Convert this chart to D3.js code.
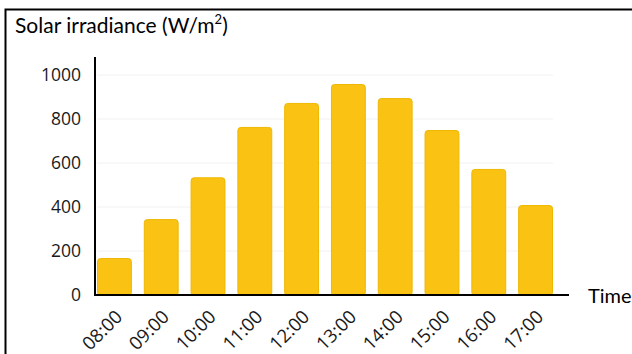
<!DOCTYPE html>
<html>
<head>
<meta charset="utf-8">
<script src="https://cdn.jsdelivr.net/npm/d3@7"></script>
<style>
  html, body { margin: 0; padding: 0; background: #fff; }
  svg { display: block; }
</style>
</head>
<body>
<svg id="chart" width="632" height="354"></svg>
<script>
// Hourly solar irradiance readings
const hours = ["08:00", "09:00", "10:00", "11:00", "12:00", "13:00", "14:00", "15:00", "16:00", "17:00"];
const irradiance = [168, 345, 535, 764, 873, 959, 895, 750, 573, 409];
const yTicks = [0, 200, 400, 600, 800, 1000];

const svg = d3.select("#chart");
const tickFont = "'Open Sans', 'Noto Sans', sans-serif";
const titleFont = "Lato, 'Open Sans', sans-serif";

// Outer frame (runs off the right and bottom edges)
svg.append("rect")
  .attr("x", 5.5).attr("y", 9.5)
  .attr("width", 700).attr("height", 400)
  .attr("fill", "none").attr("stroke", "#000").attr("stroke-width", 2);

const x = d3.scaleBand()
  .domain(hours)
  .range([97, 553])
  .paddingInner(0.255)
  .paddingOuter(0);

const y = d3.scaleLinear()
  .domain([0, 1000])
  .range([295, 75]);

// Light horizontal gridlines
svg.append("g")
  .selectAll("line")
  .data(yTicks.filter(d => d > 0))
  .join("line")
  .attr("x1", 97).attr("x2", 553)
  .attr("y1", d => y(d)).attr("y2", d => y(d))
  .attr("stroke", "#f2f2f2").attr("stroke-width", 1);

// Bars
svg.append("g")
  .selectAll("rect")
  .data(hours)
  .join("rect")
  .attr("x", d => x(d) + 0.5)
  .attr("y", (d, i) => y(irradiance[i]) + 0.5)
  .attr("width", x.bandwidth() - 1)
  .attr("height", (d, i) => y(0) - y(irradiance[i]))
  .attr("rx", 3).attr("ry", 3)
  .attr("fill", "#fac313")
  .attr("stroke", "#efb700")
  .attr("stroke-width", 1);

// Y axis
const yAxis = d3.axisLeft(y).tickValues(yTicks).tickFormat(d3.format("d")).tickSize(0).tickPadding(14);
const gy = svg.append("g").attr("transform", "translate(95,0)").call(yAxis);
gy.select(".domain").remove();
gy.attr("font-family", null).attr("font-size", null);
gy.selectAll("text")
  .style("font-family", tickFont)
  .style("font-size", "17.5px")
  .attr("fill", "#1a1a1a");

svg.append("line")
  .attr("x1", 95).attr("x2", 95)
  .attr("y1", 57).attr("y2", 296)
  .attr("stroke", "#000").attr("stroke-width", 2);

// X axis
const xAxis = d3.axisBottom(x).tickSize(0).tickPadding(0);
const gx = svg.append("g").attr("transform", "translate(0,295)").call(xAxis);
gx.select(".domain").remove();
gx.attr("font-family", null).attr("font-size", null);
gx.selectAll("text")
  .style("font-family", tickFont)
  .style("font-size", "18.5px")
  .attr("fill", "#1a1a1a")
  .attr("text-anchor", "end")
  .attr("dy", 0)
  .attr("y", 0)
  .attr("transform", "translate(9,23) rotate(-45)");

svg.append("line")
  .attr("x1", 94).attr("x2", 569)
  .attr("y1", 295).attr("y2", 295)
  .attr("stroke", "#000").attr("stroke-width", 2);

// Titles
const title = svg.append("text")
  .attr("x", 15).attr("y", 33)
  .style("font-family", titleFont)
  .style("font-size", "21px")
  .attr("fill", "#000");
title.append("tspan").text("Solar irradiance (W/m");
title.append("tspan").text("2").style("font-size", "13px").attr("dy", -9);
title.append("tspan").text(")").attr("dy", 9);

svg.append("text")
  .attr("x", 588).attr("y", 303)
  .style("font-family", titleFont)
  .style("font-size", "20px")
  .attr("fill", "#000")
  .text("Time");
</script>
</body>
</html>
